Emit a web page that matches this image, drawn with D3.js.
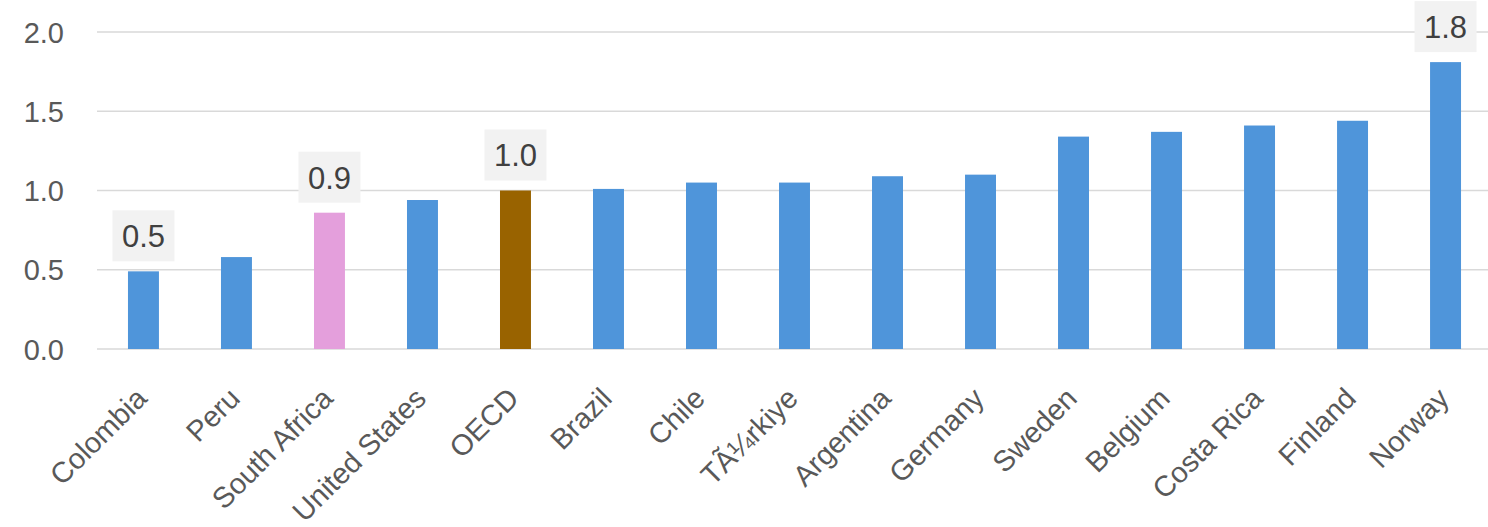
<!DOCTYPE html>
<html>
<head>
<meta charset="utf-8">
<script src="https://cdn.jsdelivr.net/npm/d3@7"></script>
<style>
  html, body { margin: 0; padding: 0; background: #ffffff; }
  svg { display: block; }
  text { font-family: "Liberation Sans", Arial, sans-serif; }
</style>
</head>
<body>
<svg id="chart" width="1488" height="527"></svg>
<script>
const countries = ["Colombia", "Peru", "South Africa", "United States", "OECD", "Brazil", "Chile",
  "TÃ¼rkiye", "Argentina", "Germany", "Sweden", "Belgium", "Costa Rica", "Finland", "Norway"];
const values = [0.49, 0.58, 0.86, 0.94, 1.0, 1.01, 1.05, 1.05, 1.09, 1.10, 1.34, 1.37, 1.41, 1.44, 1.81];
const yTicks = [0, 0.5, 1.0, 1.5, 2.0];
const labelled = ["Colombia", "South Africa", "OECD", "Norway"];
const highlight = { "South Africa": "#e49fdc", "OECD": "#996300" };
const baseColor = "#4f95da";

const svg = d3.select("#chart");
const plotLeft = 97, plotRight = 1492, plotTop = 32, plotBottom = 349;

const x = d3.scaleBand().domain(countries).range([plotLeft, plotRight]).paddingInner(0.667).paddingOuter(0.333);
const y = d3.scaleLinear().domain([0, 2.0]).range([plotBottom, plotTop]);

// horizontal gridlines
svg.append("g").selectAll("line").data(yTicks).join("line")
  .attr("x1", plotLeft).attr("x2", 1488)
  .attr("y1", d => y(d)).attr("y2", d => y(d))
  .attr("stroke", "#d9d9d9").attr("stroke-width", 1.5);

// y axis labels
const yAxis = d3.axisLeft(y).tickValues(yTicks).tickFormat(d3.format(".1f")).tickSize(0).tickPadding(0);
const gy = svg.append("g").attr("transform", `translate(64,0)`).call(yAxis);
gy.select(".domain").remove();
gy.selectAll("text").attr("font-size", 29).attr("fill", "#595959").attr("dy", "0.35em");

// bars
svg.append("g").selectAll("rect").data(countries).join("rect")
  .attr("x", d => x(d)).attr("width", x.bandwidth())
  .attr("y", (d, i) => y(values[i])).attr("height", (d, i) => y(0) - y(values[i]))
  .attr("fill", d => highlight[d] || baseColor);

// x axis labels, rotated
const xAxis = d3.axisBottom(x).tickSize(0).tickPadding(0);
const gx = svg.append("g").attr("transform", `translate(0,${plotBottom})`).call(xAxis);
gx.select(".domain").remove();
gx.selectAll("text")
  .attr("font-size", 29).attr("fill", "#595959")
  .attr("text-anchor", "end")
  .attr("transform", "translate(-2,44) rotate(-45)")
  .attr("dy", "0.35em");

// value labels
const fmt = d3.format(".1f");
const lab = svg.append("g").selectAll("g").data(countries.filter(c => labelled.includes(c))).join("g")
  .attr("transform", d => `translate(${x(d) + x.bandwidth() / 2},${y(values[countries.indexOf(d)]) - 10})`);
lab.append("rect").attr("x", -31).attr("y", -51).attr("width", 62).attr("height", 51).attr("fill", "#f2f2f2");
lab.append("text").attr("y", -25).attr("dy", "0.35em").attr("text-anchor", "middle")
  .attr("font-size", 31).attr("fill", "#404040")
  .text(d => fmt(values[countries.indexOf(d)]));
</script>
</body>
</html>
